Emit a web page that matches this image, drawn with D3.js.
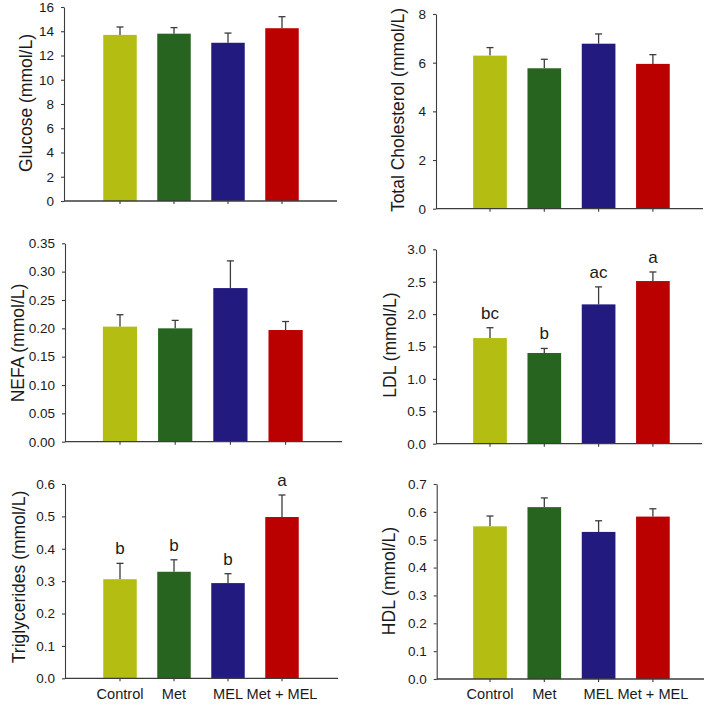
<!DOCTYPE html>
<html>
<head>
<meta charset="utf-8">
<script src="https://cdn.jsdelivr.net/npm/d3@7"></script>
<style>
  html, body { margin: 0; padding: 0; background: #fff; }
  svg { display: block; font-family: "Liberation Sans", Arial, sans-serif; }
</style>
</head>
<body>
<svg id="chart" width="709" height="704"></svg>
<script>
// ---- data ----
const categories = ["Control", "Met", "MEL", "Met + MEL"];
const barColors = ["#b3bd12", "#27641f", "#231a80", "#bb0000"];

const glucoseMean = [13.7, 13.8, 13.05, 14.25];
const glucoseSem  = [0.65, 0.5, 0.8, 0.95];
const glucoseTicks = [0, 2, 4, 6, 8, 10, 12, 14, 16];

const cholMean = [6.29, 5.77, 6.78, 5.95];
const cholSem  = [0.33, 0.37, 0.40, 0.38];
const cholTicks = [0, 2, 4, 6, 8];

const nefaMean = [0.203, 0.200, 0.271, 0.197];
const nefaSem  = [0.021, 0.014, 0.048, 0.015];
const nefaTicks = [0, 0.05, 0.10, 0.15, 0.20, 0.25, 0.30, 0.35];

const ldlMean = [1.63, 1.40, 2.15, 2.51];
const ldlSem  = [0.16, 0.07, 0.27, 0.14];
const ldlLetters = ["bc", "b", "ac", "a"];
const ldlTicks = [0, 0.5, 1.0, 1.5, 2.0, 2.5, 3.0];

const tgMean = [0.306, 0.329, 0.294, 0.498];
const tgSem  = [0.049, 0.037, 0.029, 0.068];
const tgLetters = ["b", "b", "b", "a"];
const tgTicks = [0, 0.1, 0.2, 0.3, 0.4, 0.5, 0.6];

const hdlMean = [0.548, 0.617, 0.528, 0.583];
const hdlSem  = [0.037, 0.033, 0.040, 0.028];
const hdlTicks = [0, 0.1, 0.2, 0.3, 0.4, 0.5, 0.6, 0.7];

// ---- layout ----
const panels = [
  { title: "Glucose (mmol/L)", mean: glucoseMean, sem: glucoseSem, ticks: glucoseTicks, fmt: "d",
    ax: 64, y0: 201, yTop: 7, xEnd: 337, c0: 120, step: 54, tx: 31.5, ty: 103, showCats: false },
  { title: "Total Cholesterol (mmol/L)", mean: cholMean, sem: cholSem, ticks: cholTicks, fmt: "d",
    ax: 436, y0: 208.7, yTop: 14, xEnd: 703, c0: 490, step: 54.3, tx: 404, ty: 110, showCats: false },
  { title: "NEFA (mmol/L)", mean: nefaMean, sem: nefaSem, ticks: nefaTicks, fmt: ".2f",
    ax: 65, y0: 441.7, yTop: 243.3, xEnd: 342, c0: 120, step: 55.2, tx: 24, ty: 343, showCats: false },
  { title: "LDL (mmol/L)", mean: ldlMean, sem: ldlSem, ticks: ldlTicks, fmt: ".1f", letters: ldlLetters,
    ax: 436, y0: 443.7, yTop: 249.3, xEnd: 702, c0: 490, step: 54.3, tx: 395.5, ty: 345, showCats: false },
  { title: "Triglycerides (mmol/L)", mean: tgMean, sem: tgSem, ticks: tgTicks, fmt: ".1f", letters: tgLetters,
    ax: 65, y0: 678.3, yTop: 484, xEnd: 338, c0: 120, step: 54, tx: 25, ty: 577, showCats: true },
  { title: "HDL (mmol/L)", mean: hdlMean, sem: hdlSem, ticks: hdlTicks, fmt: ".1f",
    ax: 436.7, y0: 679, yTop: 484, xEnd: 704, c0: 490, step: 54.3, tx: 395, ty: 581, showCats: true }
];

const svg = d3.select("#chart");
const axisColor = "#3c3c3c";
const textColor = "#1a1a1a";

panels.forEach(p => {
  const g = svg.append("g");
  const tMax = p.ticks[p.ticks.length - 1];
  const y = d3.scaleLinear().domain([0, tMax]).range([p.y0, p.yTop]);
  const x = d3.scaleBand().domain(categories)
    .range([p.c0 - p.step / 2, p.c0 + 3.5 * p.step])
    .paddingInner(0.38).paddingOuter(0.19);

  const rows = categories.map((c, i) => ({ c, m: p.mean[i], s: p.sem[i], col: barColors[i], i }));
  // error bars
  const eb = g.append("g").attr("stroke", axisColor).attr("stroke-width", 1.3);
  rows.forEach(r => {
    const cx = x(r.c) + x.bandwidth() / 2;
    eb.append("line").attr("x1", cx).attr("x2", cx).attr("y1", y(r.m)).attr("y2", y(r.m + r.s));
    eb.append("line").attr("x1", cx - 3.5).attr("x2", cx + 3.5).attr("y1", y(r.m + r.s)).attr("y2", y(r.m + r.s));
  });
  // bars
  g.selectAll("rect.bar").data(rows).enter().append("rect")
    .attr("class", "bar")
    .attr("x", d => x(d.c))
    .attr("width", x.bandwidth())
    .attr("y", d => y(d.m))
    .attr("height", d => y(0) - y(d.m))
    .attr("fill", d => d.col);

  // significance letters
  if (p.letters) {
    g.selectAll("text.sig").data(rows).enter().append("text")
      .attr("class", "sig")
      .attr("x", d => x(d.c) + x.bandwidth() / 2)
      .attr("y", d => y(d.m + d.s) - 9)
      .attr("text-anchor", "middle")
      .attr("font-size", 17)
      .attr("fill", textColor)
      .text(d => p.letters[d.i]);
  }

  // y axis
  const yAxis = d3.axisLeft(y).tickValues(p.ticks).tickSize(3).tickSizeOuter(0).tickPadding(7)
    .tickFormat(d3.format(p.fmt));
  const ya = g.append("g").attr("transform", `translate(${p.ax},0)`).call(yAxis);
  ya.select(".domain").attr("stroke", axisColor).attr("stroke-width", 1.1);
  ya.selectAll(".tick line").attr("stroke", axisColor).attr("stroke-width", 1.1);
  ya.selectAll(".tick text").attr("font-size", 13.5).attr("fill", textColor)
    .attr("font-family", "'Liberation Sans', Arial, sans-serif");

  // x axis
  const xAxis = d3.axisBottom(x).tickSize(3).tickSizeOuter(0)
    .tickFormat(p.showCats ? (d => d) : (() => ""));
  const xa = g.append("g").attr("transform", `translate(0,${p.y0})`).call(xAxis);
  xa.select(".domain").remove();
  xa.selectAll(".tick line").attr("stroke", axisColor).attr("stroke-width", 1.1);
  xa.selectAll(".tick text").attr("font-size", 14.6).attr("fill", textColor)
    .attr("font-family", "'Liberation Sans', Arial, sans-serif")
    .attr("y", 20.3).attr("dy", 0);
  g.append("line").attr("x1", p.ax).attr("x2", p.xEnd).attr("y1", p.y0).attr("y2", p.y0)
    .attr("stroke", axisColor).attr("stroke-width", 1.3);

  // y title
  g.append("text")
    .attr("transform", `translate(${p.tx},${p.ty}) rotate(-90)`)
    .attr("text-anchor", "middle")
    .attr("font-size", 17.5)
    .attr("fill", textColor)
    .text(p.title);
});
</script>
</body>
</html>
